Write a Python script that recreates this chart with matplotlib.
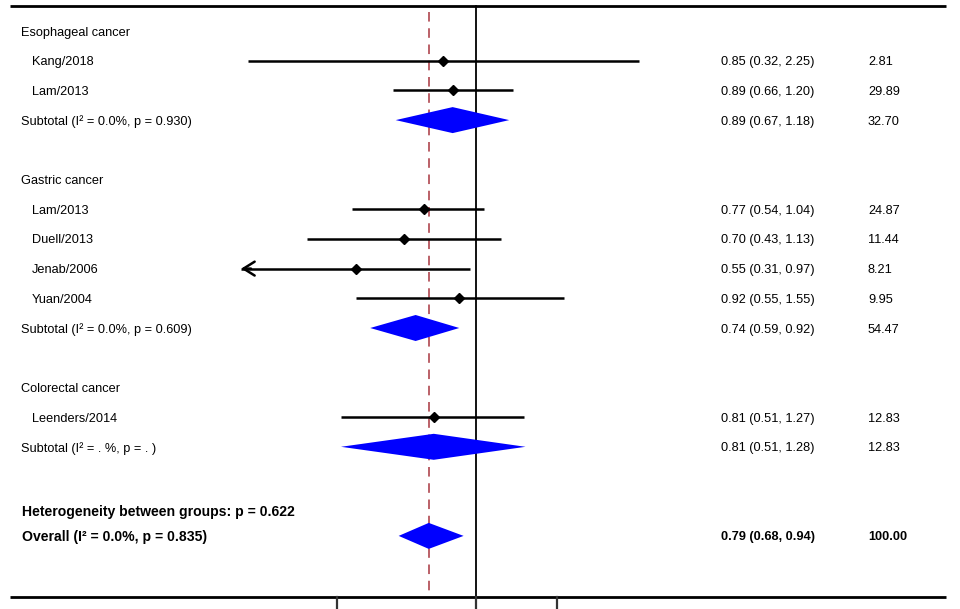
import numpy as np
import matplotlib
matplotlib.use("Agg")
import matplotlib.pyplot as plt
from matplotlib.transforms import blended_transform_factory

plt.rcParams['font.family'] = ['Liberation Sans', 'DejaVu Sans']

# ---- data ----
labels = ["Esophageal cancer", "Kang/2018", "Lam/2013", "Subtotal (I\u00b2 = 0.0%, p = 0.930)",
          "Gastric cancer", "Lam/2013", "Duell/2013", "Jenab/2006", "Yuan/2004",
          "Subtotal (I\u00b2 = 0.0%, p = 0.609)",
          "Colorectal cancer", "Leenders/2014", "Subtotal (I\u00b2 = . %, p = . )",
          "Heterogeneity between groups: p = 0.622", "Overall (I\u00b2 = 0.0%, p = 0.835)"]
kinds = ["head", "study", "study", "sub",
         "head", "study", "study", "study", "study", "sub",
         "head", "study", "sub",
         "het", "overall"]
est = [None, 0.85, 0.89, 0.89, None, 0.77, 0.70, 0.55, 0.92, 0.74, None, 0.81, 0.81, None, 0.79]
lo = [None, 0.32, 0.66, 0.67, None, 0.54, 0.43, 0.31, 0.55, 0.59, None, 0.51, 0.51, None, 0.68]
hi = [None, 2.25, 1.20, 1.18, None, 1.04, 1.13, 0.97, 1.55, 0.92, None, 1.27, 1.28, None, 0.94]
weights = [None, "2.81", "29.89", "32.70", None, "24.87", "11.44", "8.21", "9.95", "54.47",
           None, "12.83", "12.83", None, "100.00"]
xticks = [0.5, 1, 1.5]
overall_es = 0.79
clip_low = 0.31  # lower display limit (arrow)

# ---- layout (rows) ----
rows = [0, 1, 2, 3, 5, 6, 7, 8, 9, 10, 12, 13, 14, 16.15, 17]

W, H = 960, 609
fig = plt.figure(figsize=(W / 100, H / 100), dpi=100)
ax = fig.add_axes([0, 0, 1, 1])
ax.set_xscale('log')
px_per_ln = 200.5
x_null = 476
ax.set_xlim(np.exp((0 - x_null) / px_per_ln), np.exp((W - x_null) / px_per_ln))
row0_px, row_px = 31, 29.7
ax.set_ylim((H - row0_px) / row_px, (0 - row0_px) / row_px)
ax.axis('off')

def ypx(p):
    return (p - row0_px) / row_px

def xval(p):
    return np.exp((p - x_null) / px_per_ln)

top_y = ypx(5.5)
bot_y = ypx(596.5)
tick_bot = ypx(612)

# border lines
ax.plot([xval(10), xval(946)], [top_y, top_y], color='black', lw=2, solid_capstyle='butt', zorder=5)
ax.plot([xval(10), xval(946)], [bot_y, bot_y], color='black', lw=2, solid_capstyle='butt', zorder=5)
for t in xticks:
    ax.plot([t, t], [bot_y, tick_bot], color='#333333', lw=1.6, zorder=5)

# null line
ax.plot([1, 1], [top_y, bot_y], color='black', lw=1.3, zorder=2)
# overall dashed line
ax.plot([overall_es, overall_es], [ypx(12), bot_y], color='#b5545c', lw=1.3,
        dashes=(5.3, 3.7), zorder=1)

xform = blended_transform_factory(fig.transFigure, ax.transData)
fs = 9.2
fs_bold_left = 10.1
dh = 13 / row_px
tdy = 1.5 / row_px  # small downward text offset

for lab, k, e, l, h, w, r in zip(labels, kinds, est, lo, hi, weights, rows):
    ry = r + tdy
    if k == "head":
        ax.text(21 / W, ry, lab, transform=xform, fontsize=fs, va='center', ha='left')
        continue
    if k == "study":
        ax.text(32 / W, ry, lab, transform=xform, fontsize=fs, va='center', ha='left')
        ax.plot([l, h], [r, r], color='black', lw=1.8, zorder=3, solid_capstyle='butt')
        if l <= clip_low + 1e-9:
            ax.annotate("", xy=(l, r), xytext=(l * 1.05, r),
                        arrowprops=dict(arrowstyle='->,head_length=0.8,head_width=0.5',
                                        color='black', lw=1.8, shrinkA=0, shrinkB=0),
                        zorder=3)
        ax.plot([e], [r], marker='D', color='black', markersize=4.6, zorder=4)
    elif k in ("sub", "overall"):
        bold = (k == "overall")
        ax.text((22 if bold else 21) / W, ry, lab, transform=xform,
                fontsize=fs_bold_left if bold else fs, va='center',
                ha='left', fontweight='bold' if bold else 'normal')
        ax.fill([l, e, h, e], [r, r - dh, r, r + dh], color='#0000ff', lw=0, zorder=4)
    elif k == "het":
        ax.text(22 / W, ry, lab, transform=xform, fontsize=fs_bold_left, va='center', ha='left',
                fontweight='bold')
        continue
    bold = (k == "overall")
    ax.text(721 / W, ry, f"{e:.2f} ({l:.2f}, {h:.2f})", transform=xform, fontsize=fs,
            va='center', ha='left', fontweight='bold' if bold else 'normal')
    ax.text(868 / W, ry, w, transform=xform, fontsize=fs, va='center', ha='left',
            fontweight='bold' if bold else 'normal')

fig.savefig("out.png", dpi=100)
